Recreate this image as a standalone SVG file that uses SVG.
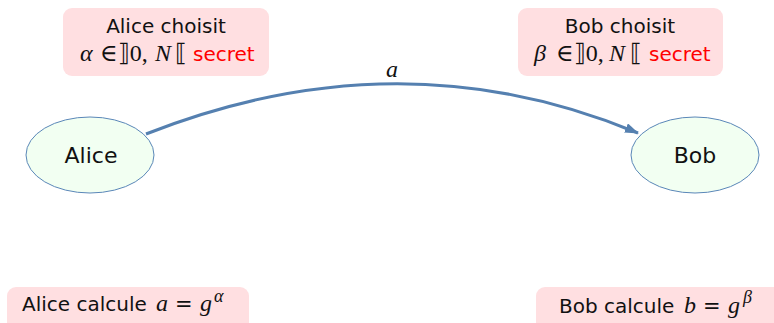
<svg xmlns="http://www.w3.org/2000/svg" width="774" height="323" viewBox="0 0 774 323">
<defs>
<marker id="arr" markerWidth="14" markerHeight="10" refX="13" refY="5" orient="auto" markerUnits="userSpaceOnUse" viewBox="0 0 14 10">
<path d="M0,0 L14,5 L0,10 Z" fill="#5580b0"/>
</marker>
<style>
.box{fill:#ffdfe1;}
.node{fill:#f2fff2;stroke:#5a87b8;stroke-width:1;}
.t{font-family:"DejaVu Sans",sans-serif;font-size:20px;fill:#111;}
.n{font-size:22px;}
.m{font-family:"Liberation Serif","DejaVu Serif",serif;font-size:24px;fill:#111;}
.eq{font-family:"DejaVu Sans",sans-serif;font-size:21px;fill:#111;}
.mi{font-style:italic;}
.sup{font-size:18px;}
.red{fill:#ff0000;}
.edge{fill:none;stroke:#5580b0;stroke-width:3;}
</style>
</defs>
<rect width="774" height="323" fill="#ffffff"/>
<g id="alice-choisit">
<rect class="box" x="63" y="8" width="206" height="68" rx="9"/>
<text class="t" x="166" y="33" text-anchor="middle">Alice choisit</text>
<text y="61"><tspan class="m mi" x="80">α</tspan><tspan class="m" x="100">∈⟧0,</tspan><tspan class="m mi" x="155">N</tspan><tspan class="m" x="175">⟦</tspan><tspan class="t red" x="193">secret</tspan></text>
</g>
<g id="bob-choisit">
<rect class="box" x="518" y="8" width="205" height="68" rx="9"/>
<text class="t" x="620" y="33" text-anchor="middle">Bob choisit</text>
<text y="61"><tspan class="m mi" x="534">β</tspan><tspan class="m" x="556">∈⟧0,</tspan><tspan class="m mi" x="609">N</tspan><tspan class="m" x="630">⟦</tspan><tspan class="t red" x="649">secret</tspan></text>
</g>
<g id="alice">
<ellipse class="node" cx="90" cy="155" rx="64" ry="38"/>
<text class="t n" x="91" y="163" text-anchor="middle">Alice</text>
</g>
<g id="bob">
<ellipse class="node" cx="695" cy="155" rx="64" ry="38"/>
<text class="t n" x="695" y="163" text-anchor="middle">Bob</text>
</g>
<g id="alice-calcule">
<rect class="box" x="7" y="287" width="242" height="45" rx="9"/>
<text y="311"><tspan class="t" x="22">Alice calcule</tspan><tspan class="m mi" x="156">a</tspan><tspan class="eq" x="175">=</tspan><tspan class="m mi" x="200">g</tspan><tspan class="m mi sup" x="214" y="302">α</tspan></text>
</g>
<g id="bob-calcule">
<rect class="box" x="536" y="287" width="250" height="45" rx="9"/>
<text y="313"><tspan class="t" x="559">Bob calcule</tspan><tspan class="m mi" x="684">b</tspan><tspan class="eq" x="703">=</tspan><tspan class="m mi" x="728">g</tspan><tspan class="m mi sup" x="743" y="303">β</tspan></text>
</g>
<g id="connectors">
<path class="edge" d="M146,134 Q400,34 638,133" marker-end="url(#arr)"/>
<text class="m mi" x="392" y="77" text-anchor="middle" font-size="26">a</text>
</g>
</svg>
